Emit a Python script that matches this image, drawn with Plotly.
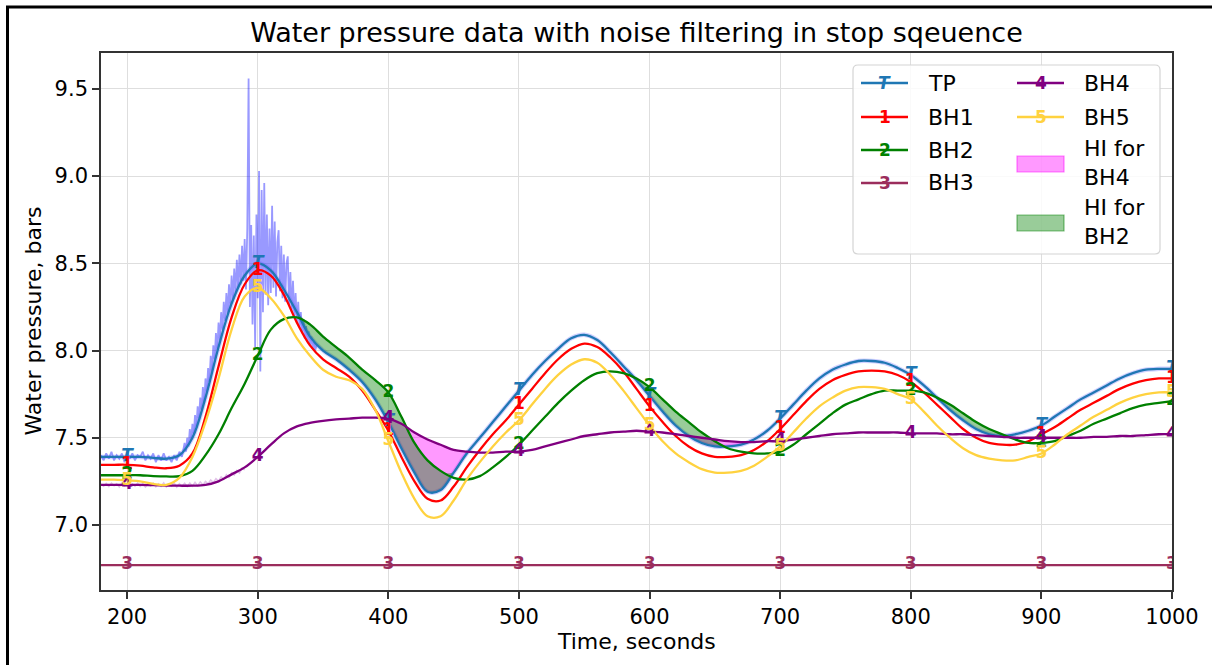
import plotly.graph_objects as go

# ---------------- data ----------------
T = list(range(180, 1001, 10))

TP = [7.39, 7.39, 7.39, 7.39, 7.385, 7.38, 7.40, 7.50, 7.73, 8.02,
      8.27, 8.43, 8.50, 8.46, 8.35, 8.22, 8.08, 8.00, 7.95, 7.89,
      7.82, 7.72, 7.59, 7.44, 7.30, 7.19, 7.20, 7.30, 7.41, 7.50,
      7.59, 7.68, 7.77, 7.86, 7.94, 8.01, 8.07, 8.09, 8.06, 7.99,
      7.91, 7.83, 7.74, 7.65, 7.57, 7.51, 7.47, 7.45, 7.45, 7.46,
      7.49, 7.54, 7.61, 7.69, 7.77, 7.84, 7.89, 7.92, 7.94, 7.94,
      7.93, 7.90, 7.86, 7.80, 7.73, 7.66, 7.60, 7.55, 7.52, 7.51,
      7.52, 7.54, 7.57, 7.62, 7.67, 7.72, 7.76, 7.80, 7.84, 7.87,
      7.89, 7.895, 7.895]

BH1 = [7.345, 7.345, 7.345, 7.34, 7.33, 7.325, 7.34, 7.41, 7.62, 7.91,
       8.19, 8.38, 8.46, 8.43, 8.32, 8.16, 8.03, 7.95, 7.90, 7.85,
       7.77, 7.66, 7.54, 7.39, 7.25, 7.15, 7.14, 7.22, 7.33, 7.43,
       7.52, 7.60, 7.69, 7.78, 7.87, 7.95, 8.01, 8.04, 8.02, 7.96,
       7.88, 7.78, 7.68, 7.59, 7.51, 7.45, 7.41, 7.39, 7.39, 7.40,
       7.43, 7.48, 7.55, 7.63, 7.71, 7.78, 7.83, 7.86, 7.88, 7.885,
       7.88, 7.86, 7.82, 7.76, 7.69, 7.62, 7.55, 7.50, 7.47, 7.46,
       7.46, 7.48, 7.52, 7.56, 7.61, 7.66, 7.70, 7.74, 7.78, 7.81,
       7.83, 7.84, 7.84]

BH2 = [7.285, 7.285, 7.285, 7.285, 7.28, 7.278, 7.28, 7.31, 7.40, 7.52,
       7.67, 7.81, 7.97, 8.12, 8.18, 8.19, 8.15, 8.08, 8.02, 7.96,
       7.89, 7.83, 7.76, 7.62, 7.47, 7.37, 7.31, 7.27, 7.26, 7.28,
       7.33, 7.39, 7.46, 7.54, 7.62, 7.70, 7.77, 7.83, 7.87, 7.88,
       7.87, 7.84, 7.79, 7.72, 7.65, 7.59, 7.53, 7.48, 7.44, 7.42,
       7.41, 7.41, 7.42, 7.46, 7.52, 7.58, 7.64, 7.69, 7.72, 7.75,
       7.77, 7.77, 7.77, 7.76, 7.73, 7.69, 7.64, 7.59, 7.55, 7.52,
       7.49, 7.47, 7.47, 7.48, 7.51, 7.54, 7.58, 7.61, 7.64, 7.67,
       7.69, 7.70, 7.71]

BH3 = [6.77] * len(T)

BH4 = [7.23, 7.23, 7.23, 7.23, 7.228, 7.226, 7.225, 7.225, 7.23, 7.25,
       7.29, 7.33, 7.39, 7.46, 7.525, 7.565, 7.585, 7.597, 7.605, 7.61,
       7.615, 7.615, 7.61, 7.58, 7.53, 7.49, 7.46, 7.43, 7.42, 7.415,
       7.415, 7.42, 7.42, 7.43, 7.45, 7.47, 7.49, 7.51, 7.52, 7.53,
       7.535, 7.54, 7.535, 7.53, 7.52, 7.51, 7.50, 7.49, 7.48, 7.475,
       7.475, 7.48, 7.48, 7.49, 7.50, 7.51, 7.52, 7.525, 7.53, 7.53,
       7.53, 7.53, 7.525, 7.525, 7.525, 7.52, 7.52, 7.515, 7.51, 7.505,
       7.50, 7.50, 7.50, 7.50, 7.50, 7.50, 7.505, 7.505, 7.51, 7.51,
       7.515, 7.52, 7.52]

BH5 = [7.26, 7.26, 7.255, 7.25, 7.235, 7.23, 7.27, 7.39, 7.59, 7.84,
       8.12, 8.31, 8.36, 8.30, 8.20, 8.07, 7.97, 7.89, 7.85, 7.83,
       7.78, 7.66, 7.48, 7.30, 7.15, 7.05, 7.05, 7.14, 7.26, 7.36,
       7.45, 7.53, 7.60, 7.69, 7.78, 7.86, 7.92, 7.95, 7.93, 7.86,
       7.77, 7.67, 7.57, 7.48, 7.41, 7.36, 7.32, 7.30, 7.30, 7.31,
       7.34, 7.39, 7.45, 7.53, 7.61, 7.68, 7.73, 7.77, 7.79, 7.79,
       7.78, 7.75, 7.72, 7.65, 7.57, 7.50, 7.44, 7.40, 7.38, 7.37,
       7.37, 7.39, 7.41, 7.46, 7.52, 7.57, 7.62, 7.66, 7.70, 7.73,
       7.75, 7.76, 7.76]

# raw (unfiltered) readings
RAW_TP_T = list(range(180, 243, 2)) + list(range(244, 346))
RAW_TP_V = [7.40, 7.37, 7.41, 7.38, 7.42, 7.37, 7.40, 7.38, 7.41, 7.36,
            7.42, 7.38, 7.41, 7.37, 7.40, 7.39, 7.42, 7.37, 7.40, 7.38,
            7.41, 7.36, 7.40, 7.37, 7.41, 7.37, 7.39, 7.36, 7.40, 7.37,
            7.42, 7.39,
            7.47, 7.42, 7.50, 7.45, 7.55, 7.49, 7.58, 7.52, 7.63, 7.56,
            7.68, 7.61, 7.73, 7.66, 7.79, 7.70, 7.84, 7.76, 7.90, 7.82,
            7.97, 7.88, 8.03, 7.95, 8.10, 8.00, 8.16, 8.06, 8.22, 8.12,
            8.28, 8.17, 8.33, 8.21, 8.38, 8.25, 8.43, 8.29, 8.47, 8.33,
            8.52, 8.36, 8.55, 8.38, 8.60, 8.40, 8.64, 8.35, 8.70, 9.56,
            8.25, 8.72, 8.15, 8.66, 8.02, 8.78, 8.30, 9.03, 7.88, 8.92,
            8.22, 8.96, 8.32, 8.78, 8.26, 8.70, 8.33, 8.83, 8.36, 8.74,
            8.31, 8.62, 8.69, 8.34, 8.60, 8.30, 8.55, 8.28, 8.50, 8.54,
            8.26, 8.45, 8.22, 8.40, 8.19, 8.33, 8.16, 8.28, 8.13, 8.22,
            8.10, 8.18, 8.07, 8.14, 8.05, 8.11, 8.03, 8.08, 8.01, 8.05,
            8.00, 8.03]

RAW_BH4_T = list(range(180, 291, 2))
RAW_BH4_V = [7.235, 7.222, 7.238, 7.220, 7.240, 7.225, 7.236, 7.218, 7.241, 7.224,
             7.237, 7.219, 7.236, 7.222, 7.240, 7.221, 7.238, 7.217, 7.235, 7.223,
             7.239, 7.219, 7.236, 7.221, 7.242, 7.218, 7.236, 7.222, 7.240, 7.216,
             7.237, 7.221, 7.239, 7.220, 7.241, 7.222, 7.244, 7.225, 7.247, 7.230,
             7.250, 7.236, 7.258, 7.243, 7.266, 7.252, 7.276, 7.262, 7.288, 7.272,
             7.300, 7.286, 7.312, 7.298, 7.326, 7.315]

MARK_T = [200, 300, 400, 500, 600, 700, 800, 900, 1000]
X_TICKS = [200, 300, 400, 500, 600, 700, 800, 900, 1000]
Y_TICKS = [7.0, 7.5, 8.0, 8.5, 9.0, 9.5]

SERIES = [
    ("TP", TP, "#1f77b4", "<b><i>T</i></b>"),
    ("BH1", BH1, "#ff0000", "<b>1</b>"),
    ("BH2", BH2, "#008000", "<b>2</b>"),
    ("BH3", BH3, "#9b2d5c", "<b>3</b>"),
    ("BH4", BH4, "#800080", "<b>4</b>"),
    ("BH5", BH5, "#ffd23f", "<b>5</b>"),
]

FONT = "DejaVu Sans"
fig = go.Figure()

# raw noisy readings
fig.add_trace(go.Scatter(x=RAW_TP_T, y=RAW_TP_V, mode="lines",
                         line=dict(color="rgba(0,0,255,0.4)", width=1.8),
                         showlegend=False, hoverinfo="skip"))
fig.add_trace(go.Scatter(x=RAW_BH4_T, y=RAW_BH4_V, mode="lines",
                         line=dict(color="rgba(170,80,190,0.35)", width=1.5),
                         showlegend=False, hoverinfo="skip"))
# halo of raw TP around the filtered curve
fig.add_trace(go.Scatter(x=T, y=TP, mode="lines",
                         line=dict(color="rgba(90,90,255,0.28)", width=4.5, shape="spline"),
                         showlegend=False, hoverinfo="skip"))

# HI fills
up4 = [max(a, b) for a, b in zip(TP, BH4)]
up2 = [max(a, b) for a, b in zip(TP, BH2)]
for up, col in [(up4, "rgba(255,0,255,0.4)"), (up2, "rgba(0,128,0,0.4)")]:
    fig.add_trace(go.Scatter(x=T, y=TP, mode="lines", line=dict(width=0, shape="spline"),
                             showlegend=False, hoverinfo="skip"))
    fig.add_trace(go.Scatter(x=T, y=up, mode="lines", line=dict(width=0, shape="spline"),
                             fill="tonexty", fillcolor=col, showlegend=False, hoverinfo="skip"))

# filtered lines
for name, vals, col, glyph in SERIES:
    fig.add_trace(go.Scatter(x=T, y=vals, mode="lines", name=name,
                             line=dict(color=col, width=2.3, shape="spline"),
                             showlegend=False))
# text markers
for name, vals, col, glyph in SERIES:
    my = [vals[T.index(m)] for m in MARK_T]
    fig.add_trace(go.Scatter(x=MARK_T, y=my, mode="text", text=[glyph] * len(MARK_T),
                             textposition="middle center",
                             textfont=dict(color=col, size=17, family=FONT),
                             cliponaxis=True, showlegend=False, hoverinfo="skip"))

# ---------------- layout helpers ----------------
L, R, TOP, BOT = 101, 1172, 53, 590


def px(x):
    return (x - L) / (R - L)


def py(y):
    return (BOT - y) / (BOT - TOP)


shapes = []
annotations = []

# figure border (left & top)
shapes.append(dict(type="line", xref="paper", yref="paper", x0=px(7.5), x1=px(7.5),
                   y0=py(6), y1=py(665), line=dict(color="black", width=3)))
shapes.append(dict(type="line", xref="paper", yref="paper", x0=px(6), x1=px(1212),
                   y0=py(7), y1=py(7), line=dict(color="black", width=3)))

# legend box (rounded)
x0, x1, y0, y1 = px(853), px(1160), py(254), py(65)
rx, ry = 5 / (R - L), 5 / (BOT - TOP)
path = (f"M {x0+rx},{y1} L {x1-rx},{y1} Q {x1},{y1} {x1},{y1-ry} "
        f"L {x1},{y0+ry} Q {x1},{y0} {x1-rx},{y0} L {x0+rx},{y0} "
        f"Q {x0},{y0} {x0},{y0+ry} L {x0},{y1-ry} Q {x0},{y1} {x0+rx},{y1} Z")
shapes.append(dict(type="path", xref="paper", yref="paper", path=path,
                   fillcolor="rgba(255,255,255,0.85)", line=dict(color="#d4d4d4", width=1.2)))

leg_rows = [(0, 83), (1, 117), (2, 150), (3, 183), (4, 83), (5, 117)]
for idx, yrow in leg_rows:
    name, vals, col, glyph = SERIES[idx]
    if idx < 4:
        lx0, lx1, tx = 861, 908, 926
    else:
        lx0, lx1, tx = 1017, 1064, 1082
    shapes.append(dict(type="line", xref="paper", yref="paper", x0=px(lx0), x1=px(lx1),
                       y0=py(yrow), y1=py(yrow), line=dict(color=col, width=2.3)))
    annotations.append(dict(xref="paper", yref="paper", x=px((lx0 + lx1) / 2), y=py(yrow),
                            text=glyph, showarrow=False, xanchor="center", yanchor="middle",
                            font=dict(color=col, size=17, family=FONT)))
    annotations.append(dict(xref="paper", yref="paper", x=px(tx), y=py(yrow), text=name,
                            showarrow=False, xanchor="left", yanchor="middle",
                            font=dict(color="black", size=22, family=FONT)))

for label, yc, fcol, ecol in [("HI for<br>BH4", 164, "rgba(255,0,255,0.4)", "rgba(255,0,255,0.5)"),
                              ("HI for<br>BH2", 223, "rgba(0,128,0,0.4)", "rgba(0,128,0,0.5)")]:
    shapes.append(dict(type="rect", xref="paper", yref="paper", x0=px(1017), x1=px(1064),
                       y0=py(yc + 8), y1=py(yc - 8), fillcolor=fcol, line=dict(color=ecol, width=1.2)))
    annotations.append(dict(xref="paper", yref="paper", x=px(1082), y=py(yc - 1), text=label,
                            showarrow=False, xanchor="left", yanchor="middle", align="left",
                            font=dict(color="black", size=22, family=FONT)))

# axis titles
annotations.append(dict(xref="paper", yref="paper", x=0.5, y=py(641), text="Time, seconds",
                        showarrow=False, xanchor="center", yanchor="middle",
                        font=dict(color="black", size=22, family=FONT)))
annotations.append(dict(xref="paper", yref="paper", x=px(33), y=0.5, text="Water pressure, bars",
                        showarrow=False, xanchor="center", yanchor="middle", textangle=-90,
                        font=dict(color="black", size=22, family=FONT)))

fig.update_layout(
    width=1212, height=665,
    margin=dict(l=L, r=1212 - R, t=TOP, b=665 - BOT),
    paper_bgcolor="white", plot_bgcolor="white",
    font=dict(family=FONT, color="black", size=21),
    title=dict(text="Water pressure data with noise filtering in stop sqeuence",
               x=0.5, xref="paper", xanchor="center", y=1 - 33 / 665, yref="container",
               yanchor="middle", font=dict(size=27, family=FONT, color="black")),
    showlegend=False,
    shapes=shapes, annotations=annotations,
    xaxis=dict(range=[180, 1000], tickvals=X_TICKS, ticktext=[str(v) for v in X_TICKS],
               showgrid=True, gridcolor="#dedede", gridwidth=1.4, zeroline=False,
               showline=True, linecolor="#333333", linewidth=1.6, mirror=True,
               ticks="outside", ticklen=7, tickwidth=1.6, tickcolor="#333333",
               tickfont=dict(size=21, family=FONT, color="black")),
    yaxis=dict(range=[6.627, 9.706], tickvals=Y_TICKS, ticktext=[f"{v:.1f}" for v in Y_TICKS],
               showgrid=True, gridcolor="#dedede", gridwidth=1.4, zeroline=False,
               showline=True, linecolor="#333333", linewidth=1.6, mirror=True,
               ticks="outside", ticklen=7, tickwidth=1.6, tickcolor="#333333",
               tickfont=dict(size=21, family=FONT, color="black")),
)

fig.write_html("out.html")
